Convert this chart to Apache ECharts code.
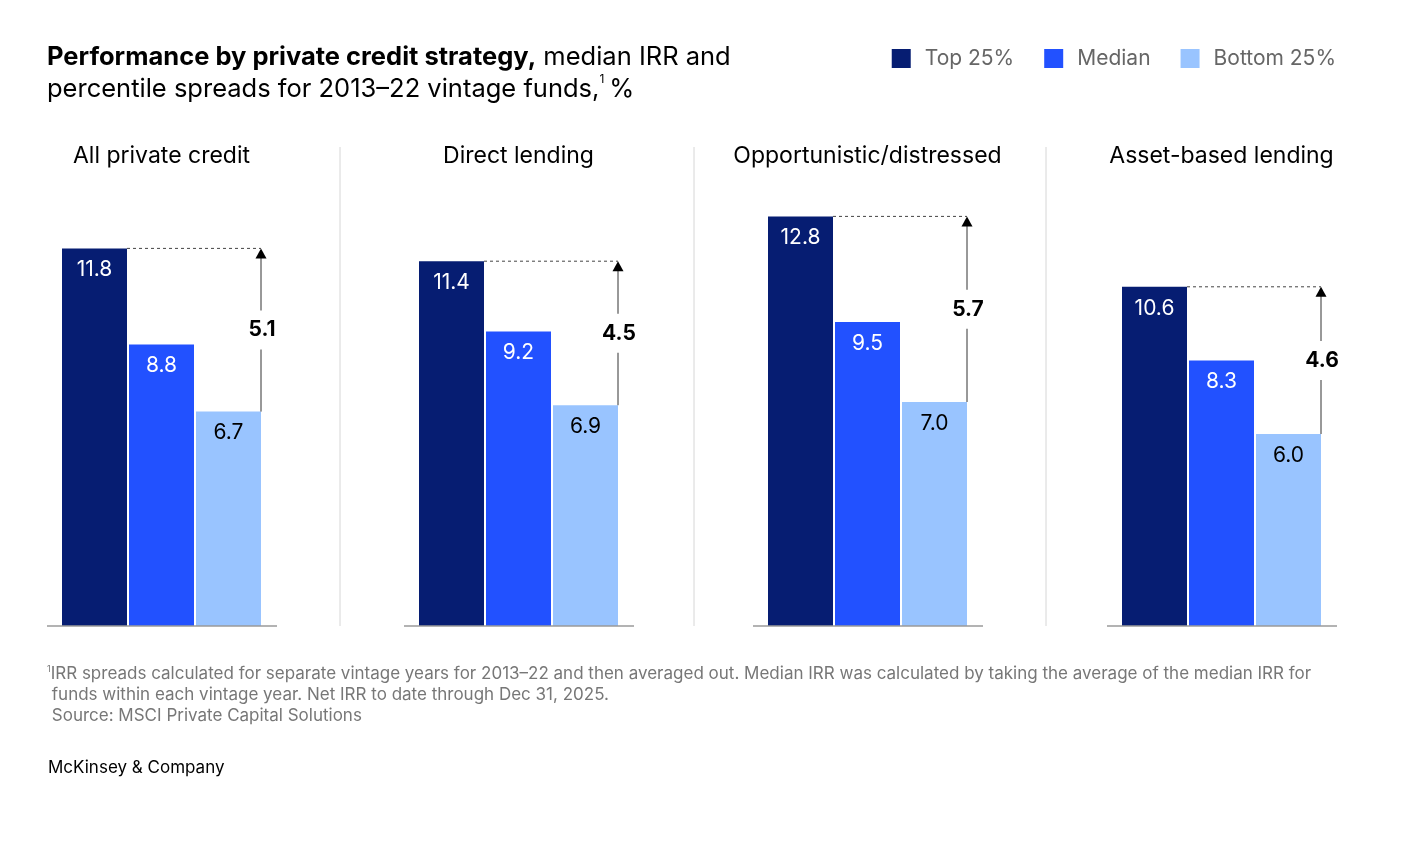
<!DOCTYPE html>
<html lang="en">
<head>
<meta charset="UTF-8">
<title>Performance by private credit strategy</title>
<script src="https://cdn.jsdelivr.net/npm/echarts@6/dist/echarts.min.js"></script>
<style>
    *{ margin: 0; }
    html,body{ height: 100%; background: #fff; }
    #chart{ width: 1401px; height: 842px; }
</style>
</head>
<body>
<div id="chart"></div>
<script>
    // data
    const panels = ['All private credit', 'Direct lending', 'Opportunistic/distressed', 'Asset-based lending'];
    const groups = ['Top 25%', 'Median', 'Bottom 25%'];
    const top25 = [11.8, 11.4, 12.8, 10.6];
    const median = [8.8, 9.2, 9.5, 8.3];
    const bottom25 = [6.7, 6.9, 7.0, 6.0];
    const spreads = [5.1, 4.5, 5.7, 4.6];

    const colors = ['#061D72', '#2251FF', '#99C4FF'];
    const labelColors = ['#fff', '#fff', '#000'];
    const font = 'Inter, "Liberation Sans", Arial, sans-serif';

    const gridLeft = [61, 418, 767, 1121];   // left edge of each bar group
    const BAR_W = 65;
    const GRID_W = 201;
    const BASE_Y = 626;
    const GRID_TOP = 186;
    const Y_MAX = 13.75;

    let grids = [], xAxes = [], yAxes = [], series = [], graphics = [];

    panels.forEach((name, i) => {
        grids.push({left: gridLeft[i], top: GRID_TOP, width: GRID_W, height: BASE_Y - GRID_TOP});
        xAxes.push({type: 'category', gridIndex: i, data: groups, show: false});
        yAxes.push({type: 'value', gridIndex: i, min: 0, max: Y_MAX, show: false});

        const vals = [top25[i], median[i], bottom25[i]];
        groups.forEach((g, k) => {
            let d = ['-', '-', '-'];
            d[k] = vals[k];
            series.push({
                type: 'bar', name: g, xAxisIndex: i, yAxisIndex: i,
                data: d, barWidth: BAR_W, barGap: '-100%',
                itemStyle: {color: colors[k]},
                label: {
                    show: true, position: 'insideTop', distance: 11,
                    color: labelColors[k], fontSize: 21, fontFamily: font,
                    formatter: p => p.value.toFixed(1)
                },
                emphasis: {disabled: true}
            });
        });

        // dashed top line + spread arrow
        series.push({
            type: 'custom', xAxisIndex: i, yAxisIndex: i, z: 5, silent: true,
            data: [[0, top25[i], bottom25[i], spreads[i]]],
            renderItem: function(params, api){
                const pTop = api.coord([0, api.value(1)]);
                const pBot = api.coord([2, api.value(2)]);
                const x0 = pTop[0] + BAR_W / 2;
                const x1 = pBot[0] + BAR_W / 2;
                const yT = pTop[1], yB = pBot[1];
                return {
                    type: 'group',
                    children: [
                        {type: 'line', shape: {x1: x0, y1: yT, x2: x1, y2: yT},
                         style: {stroke: '#444', lineWidth: 1, lineDash: [3, 3]}},
                        {type: 'line', shape: {x1: x1, y1: yB, x2: x1, y2: yT + 8},
                         style: {stroke: '#333', lineWidth: 1}},
                        {type: 'polygon', shape: {points: [[x1, yT], [x1 - 5.5, yT + 10], [x1 + 5.5, yT + 10]]},
                         style: {fill: '#000'}},
                        {type: 'text', x: x1 + 1, y: (yT + yB) / 2,
                         style: {text: api.value(3).toFixed(1), fill: '#000', font: 'bold 21px ' + font,
                                 align: 'center', verticalAlign: 'middle',
                                 backgroundColor: '#fff', padding: [9, 1]}}
                    ]
                };
            }
        });

        // panel title
        graphics.push({type: 'text', x: gridLeft[i] + GRID_W / 2, y: 156,
            style: {text: name, fill: '#000', font: '23px ' + font, align: 'center', verticalAlign: 'middle'}});
        // baseline
        graphics.push({type: 'line', shape: {x1: gridLeft[i] - 14, y1: BASE_Y, x2: gridLeft[i] + GRID_W + 15, y2: BASE_Y},
            style: {stroke: '#9a9a9a', lineWidth: 1.5}, z: 10});
        // separators
        if (i > 0) {
            const sx = [340, 694, 1046][i - 1];
            graphics.push({type: 'line', shape: {x1: sx, y1: 147, x2: sx, y2: BASE_Y},
                style: {stroke: '#d6d6d6', lineWidth: 1}});
        }
    });

    graphics.push({
        type: 'text', x: 47, y: 41,
        style: {
            text: '{b|Performance by private credit strategy,} median IRR and\npercentile spreads for 2013–22 vintage funds,{s|1}%',
            font: '25.5px ' + font, fill: '#000', lineHeight: 32,
            rich: {
                b: {font: 'bold 25.5px ' + font, fill: '#000', lineHeight: 32},
                s: {font: '12px ' + font, fill: '#000', verticalAlign: 'top', lineHeight: 32, padding: [0, 5, 10, 0]}
            }
        }
    });

    graphics.push({
        type: 'text', x: 47, y: 663,
        style: {
            text: '{s|1}IRR spreads calculated for separate vintage years for 2013–22 and then averaged out. Median IRR was calculated by taking the average of the median IRR for\n funds within each vintage year. Net IRR to date through Dec 31, 2025.\n Source: MSCI Private Capital Solutions',
            font: '17px ' + font, fill: '#777', lineHeight: 21,
            rich: {
                s: {font: '9px ' + font, fill: '#777', padding: [0, 0, 8, 0]}
            }
        }
    });

    graphics.push({
        type: 'text', x: 48, y: 759,
        style: {text: 'McKinsey & Company', font: '17px ' + font, fill: '#000'}
    });

    const chart = echarts.init(document.getElementById('chart'));
    chart.setOption({
        animation: false,
        legend: {
            data: groups, right: 65, top: 48, padding: 0,
            icon: 'rect', itemWidth: 19, itemHeight: 19, itemGap: 30,
            selectedMode: false,
            textStyle: {color: '#666', fontSize: 21, fontFamily: font, padding: [0, 0, 0, 9]}
        },
        grid: grids,
        xAxis: xAxes,
        yAxis: yAxes,
        series: series,
        graphic: graphics
    });
</script>
</body>
</html>
